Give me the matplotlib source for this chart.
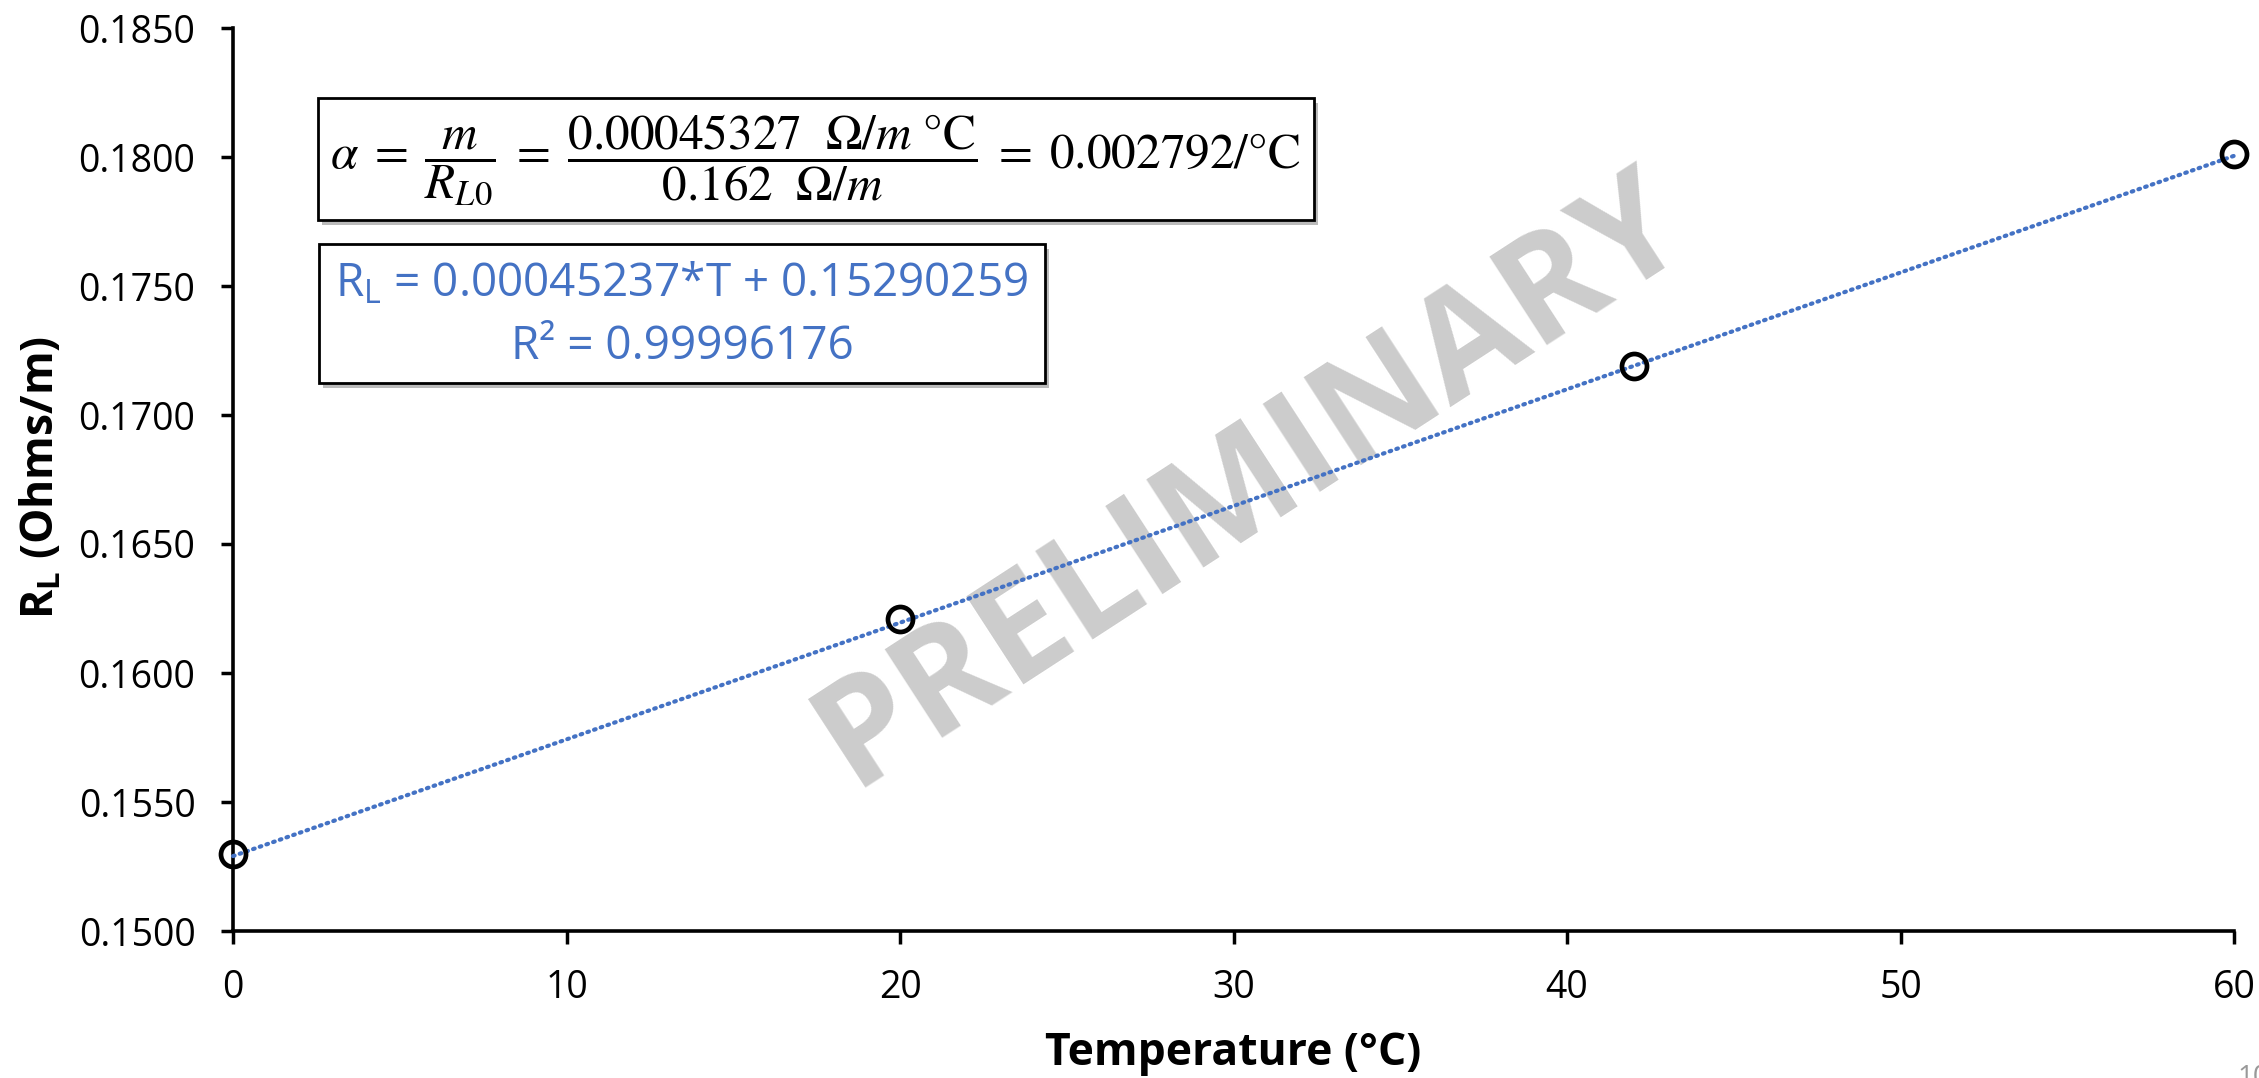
import matplotlib
matplotlib.use("Agg")
import matplotlib.pyplot as plt
from matplotlib.patches import Rectangle
import numpy as np

# ---- data ----
temperature = [0, 20, 42, 60]
resistance = [0.1530, 0.1621, 0.1719, 0.1801]
trend_slope = 0.00045237
trend_intercept = 0.15290259
x_ticks = [0, 10, 20, 30, 40, 50, 60]
y_ticks = [0.150, 0.155, 0.160, 0.165, 0.170, 0.175, 0.180, 0.185]
x_label = "Temperature (°C)"
y_label = r"R$_\mathregular{L}$ (Ohms/m)"
eq_text = (r"$\alpha\;=\;\dfrac{m}{R_{L0}}\;=\;"
           r"\dfrac{0.00045327\ \ \Omega/m\ \mathrm{°C}}{0.162\ \ \Omega/m}"
           r"\;=\;0.002792/\mathrm{°C}$")
fit_line1 = r"R$_\mathregular{L}$ = 0.00045237*T + 0.15290259"
fit_line2 = "R² = 0.99996176"
watermark = "PRELIMINARY"

plt.rcParams['font.family'] = ['Open Sans', 'DejaVu Sans']
plt.rcParams['mathtext.fontset'] = 'dejavusans'

W, H = 2259, 1078
fig = plt.figure(figsize=(W / 100, H / 100), dpi=100)

def fx(px):
    return px / W

def fy(py):
    return 1 - py / H

ax = fig.add_axes([fx(233), fy(931), fx(2234) - fx(233), fy(28) - fy(931)])
ax.set_xlim(0, 60)
ax.set_ylim(0.150, 0.185)

# trendline
tx = np.array([0, 60])
ax.plot(tx, trend_slope * tx + trend_intercept, color='#4472C4', lw=3.0,
        linestyle=(0, (0.4, 1.3)), dash_capstyle='round', zorder=3, clip_on=False)
# points
ax.plot(temperature, resistance, linestyle='none', marker='o', ms=18,
        mfc='none', mec='black', mew=3.4, zorder=4, clip_on=False)

ax.set_xticks(x_ticks)
ax.set_yticks(y_ticks)
ax.set_yticklabels([f"{v:.4f}" for v in y_ticks])
ax.tick_params(axis='both', direction='out', length=9, width=2.5, labelsize=27, pad=18)
for s in ['top', 'right']:
    ax.spines[s].set_visible(False)
for s in ['left', 'bottom']:
    ax.spines[s].set_linewidth(2.6)

ax.set_xlabel(x_label, fontsize=32, fontweight='bold', labelpad=18)
fig.text(fx(42), fy(477), y_label, fontsize=32, fontweight='bold', rotation=90,
         ha='center', va='center')

# watermark
fig.text(fx(1252), fy(482), watermark, fontsize=106, fontweight='bold', color='#CCCCCC',
         rotation=33, ha='center', va='center', rotation_mode='anchor', zorder=0.5)
ax.set_zorder(1)
ax.patch.set_alpha(0)

# boxes
def box(x0, y0, x1, y1):
    shadow = Rectangle((fx(x0 + 4), fy(y1 + 5)), fx(x1) - fx(x0), fy(y0) - fy(y1),
                       transform=fig.transFigure, facecolor='#BBBBBB', edgecolor='none',
                       zorder=5)
    rect = Rectangle((fx(x0), fy(y1)), fx(x1) - fx(x0), fy(y0) - fy(y1),
                     transform=fig.transFigure, facecolor='white', edgecolor='black',
                     lw=2.0, zorder=6)
    fig.add_artist(shadow)
    fig.add_artist(rect)

box(318, 98, 1314, 220)
box(319, 244, 1045, 383)

fig.text(fx(815), fy(160), eq_text, fontsize=35.5, ha='center', va='center',
         math_fontfamily='stix', zorder=7)
fig.text(fx(682), fy(284), fit_line1, fontsize=33, color='#4472C4', ha='center',
         va='center', zorder=7)
fig.text(fx(682), fy(347), fit_line2, fontsize=33, color='#4472C4', ha='center',
         va='center', zorder=7)

fig.text(fx(2237), fy(1064), "10", fontsize=20, color='#999999', ha='left', va='top')

fig.savefig("out.png", dpi=100)
